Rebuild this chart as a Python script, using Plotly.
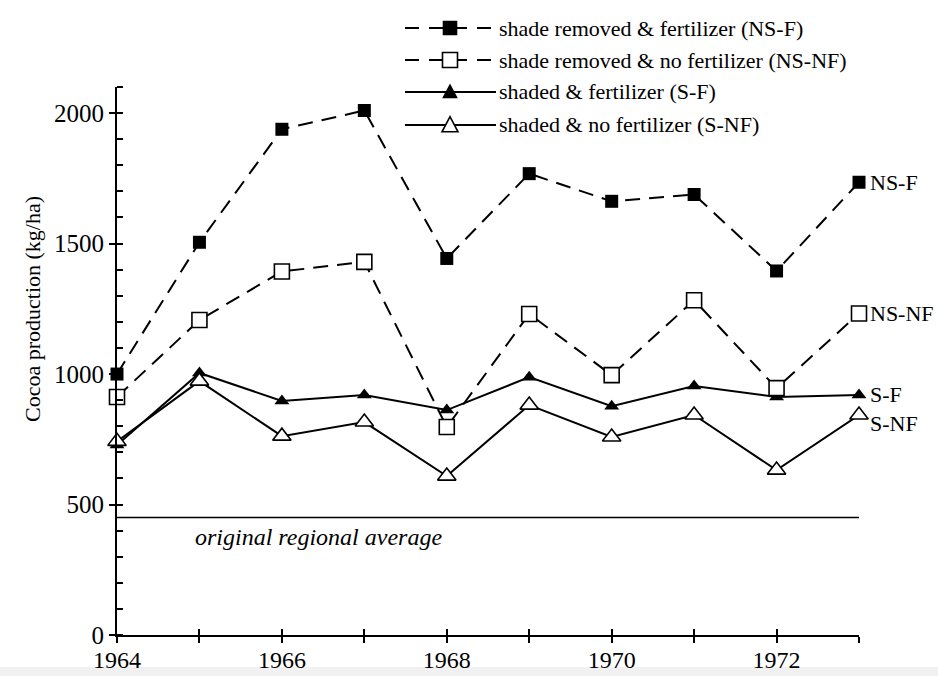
import plotly.graph_objects as go

# ---- data ----
years = [1964, 1965, 1966, 1967, 1968, 1969, 1970, 1971, 1972, 1973]
ns_f = [1000, 1505, 1938, 2010, 1443, 1768, 1662, 1688, 1395, 1735]
ns_nf = [912, 1207, 1393, 1430, 797, 1230, 996, 1283, 946, 1232]
s_f = [728, 1004, 897, 920, 862, 988, 877, 954, 912, 920]
s_nf = [742, 973, 762, 816, 609, 881, 759, 843, 632, 843]
regional_avg = 450

x_tick_labels = ["1964", "", "1966", "", "1968", "", "1970", "", "1972", ""]
y_tick_vals = [0, 500, 1000, 1500, 2000]
legend_names = [
    "shade removed & fertilizer (NS-F)",
    "shade removed & no fertilizer (NS-NF)",
    "shaded & fertilizer (S-F)",
    "shaded & no fertilizer (S-NF)",
]
end_labels = ["NS-F", "NS-NF", "S-F", "S-NF"]
y_title = "Cocoa production (kg/ha)"

FONT = "Liberation Serif"
BLACK = "black"
DASH = "15px,9px"

fig = go.Figure()

# regional average line
fig.add_trace(go.Scatter(x=[years[0], years[-1]], y=[regional_avg, regional_avg],
                         mode="lines", line=dict(color=BLACK, width=1.5),
                         showlegend=False, hoverinfo="skip"))

fig.add_trace(go.Scatter(x=years, y=ns_f, mode="lines+markers", name=legend_names[0],
                         line=dict(color=BLACK, width=2, dash=DASH),
                         marker=dict(symbol="square", size=13, color=BLACK),
                         cliponaxis=False, showlegend=False))
fig.add_trace(go.Scatter(x=years, y=s_f, mode="lines+markers", name=legend_names[2],
                         line=dict(color=BLACK, width=2),
                         marker=dict(symbol="triangle-up", size=13, color=BLACK),
                         cliponaxis=False, showlegend=False))
fig.add_trace(go.Scatter(x=years, y=ns_nf, mode="lines+markers", name=legend_names[1],
                         line=dict(color=BLACK, width=2, dash=DASH),
                         marker=dict(symbol="square", size=15, color="white",
                                     line=dict(color=BLACK, width=1.6)),
                         cliponaxis=False, showlegend=False))
fig.add_trace(go.Scatter(x=years, y=s_nf, mode="lines+markers", name=legend_names[3],
                         line=dict(color=BLACK, width=2),
                         marker=dict(symbol="triangle-up", size=16, color="white",
                                     line=dict(color=BLACK, width=1.6)),
                         cliponaxis=False, showlegend=False))

# invisible trace for the overlay axes (crossing ticks)
fig.add_trace(go.Scatter(x=[years[0]], y=[0], xaxis="x2", yaxis="y2", mode="markers",
                         marker=dict(opacity=0), showlegend=False, hoverinfo="skip"))

# ---- end-of-line labels ----
last_vals = [ns_f[-1], ns_nf[-1], s_f[-1], s_nf[-1]]
shifts = [0, 0, 0, -8]
for lab, v, sh in zip(end_labels, last_vals, shifts):
    fig.add_annotation(x=years[-1], y=v, text=lab, showarrow=False, xanchor="left",
                       xshift=9, yshift=sh, font=dict(family=FONT, size=22, color=BLACK))

fig.add_annotation(x=1966.44, y=regional_avg, text="<i>original regional average</i>",
                   showarrow=False, yanchor="top", yshift=-4,
                   font=dict(family=FONT, size=24, color=BLACK))

# ---- hand-drawn legend (paper coords; plot area 117..859 x 87..635 px) ----
def px(xp):
    return (xp - 117) / 742.0

def py(yp):
    return (635 - yp) / 548.0

# y-axis title placed as rotated text (it sits above the axis centre in the reference)
fig.add_annotation(xref="paper", yref="paper", x=px(32), y=py(309), text=y_title,
                   textangle=-90, showarrow=False, xanchor="center", yanchor="middle",
                   font=dict(family=FONT, size=22, color=BLACK))

rows = [28, 60, 92, 125]
styles = [("square", True, True), ("square", False, True),
          ("tri", True, False), ("tri", False, False)]
for yp, (sym, filled, dashed), name in zip(rows, styles, legend_names):
    fig.add_shape(type="line", xref="paper", yref="paper", x0=px(405), x1=px(496),
                  y0=py(yp), y1=py(yp),
                  line=dict(color=BLACK, width=2, dash="14px,10px" if dashed else "solid"))
    if sym == "square":
        s = 6.5 if filled else 7.5
        fig.add_shape(type="rect", xref="paper", yref="paper",
                      xsizemode="pixel", ysizemode="pixel",
                      xanchor=px(450), yanchor=py(yp),
                      x0=-s, x1=s, y0=-s, y1=s,
                      fillcolor=BLACK if filled else "white",
                      line=dict(color=BLACK, width=1.6))
    else:
        h = 6.5 if filled else 8
        path = f"M{-h},{-h*0.85} L{h},{-h*0.85} L0,{h*1.05} Z"
        fig.add_shape(type="path", xref="paper", yref="paper",
                      xsizemode="pixel", ysizemode="pixel",
                      xanchor=px(450), yanchor=py(yp), path=path,
                      fillcolor=BLACK if filled else "white",
                      line=dict(color=BLACK, width=1.6))
    fig.add_annotation(xref="paper", yref="paper", x=px(497), y=py(yp), text=name,
                       showarrow=False, xanchor="left", yanchor="middle",
                       font=dict(family=FONT, size=22, color=BLACK))

# faint grey band at the very bottom of the screenshot
fig.add_shape(type="rect", xref="paper", yref="paper", layer="below",
              x0=-117 / 742.0, x1=(938 - 117) / 742.0, y0=py(676), y1=py(667),
              fillcolor="#f1f1f1", line=dict(width=0))

axis_common = dict(showgrid=False, zeroline=False, automargin=False)
fig.update_layout(
    width=938, height=676,
    margin=dict(l=117, r=79, t=87, b=41),
    paper_bgcolor="white", plot_bgcolor="white",
    font=dict(family=FONT, color=BLACK),
    showlegend=False,
    xaxis=dict(range=[years[0], years[-1]], tickvals=years, ticktext=x_tick_labels,
               ticks="outside", ticklen=6, tickwidth=1.5, tickcolor=BLACK,
               ticklabelstandoff=-4,
               showline=True, linecolor=BLACK, linewidth=2,
               tickfont=dict(family=FONT, size=24, color=BLACK), **axis_common),
    xaxis2=dict(overlaying="x", anchor="y", side="bottom",
                range=[years[0], years[-1]], tickvals=years, ticks="inside",
                ticklen=6, tickwidth=1.5, tickcolor=BLACK, showticklabels=False,
                showline=False, **axis_common),
    yaxis=dict(range=[0, 2100], tickvals=y_tick_vals, ticks="outside", ticklen=6,
               tickwidth=1.5, tickcolor=BLACK,
               minor=dict(tickmode="linear", tick0=0, dtick=100, ticks="inside",
                          ticklen=6, tickwidth=1.5, tickcolor=BLACK),
               showline=True, linecolor=BLACK, linewidth=2,
               tickfont=dict(family=FONT, size=25, color=BLACK),
               **axis_common),
    yaxis2=dict(overlaying="y", anchor="x", side="left", range=[0, 2100],
                tickvals=y_tick_vals, ticks="inside", ticklen=6, tickwidth=1.5,
                tickcolor=BLACK, showticklabels=False, showline=False, **axis_common),
)

fig.write_html("out.html", config={"displayModeBar": False},
               post_script="document.body.style.margin='0';document.body.style.overflow='hidden';")
